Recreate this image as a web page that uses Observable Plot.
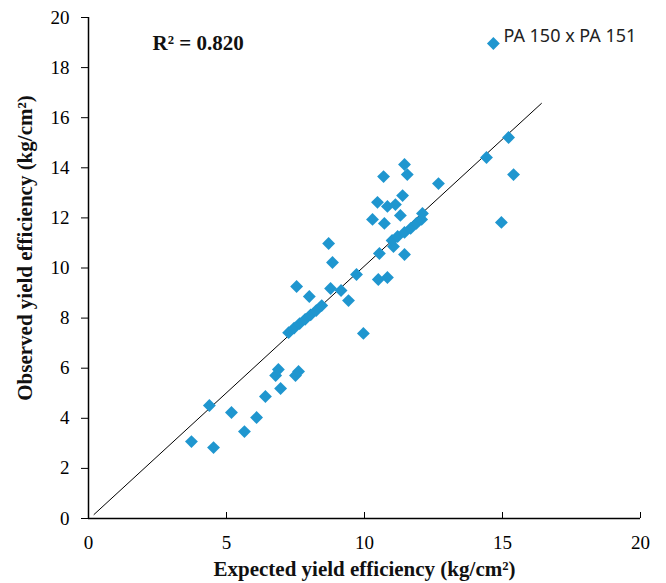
<!DOCTYPE html>
<html><head><meta charset="utf-8">
<script src="https://cdn.jsdelivr.net/npm/d3@7"></script>
<script src="https://cdn.jsdelivr.net/npm/@observablehq/plot@0.6"></script>
<style>body{margin:0;background:#fff}</style>
</head><body><div id="chart"></div>
<script>
const expected = [3.73,4.38,4.53,5.18,5.65,6.09,6.41,6.78,6.88,6.96,7.5,7.61,
  7.54,8.0,7.25,7.45,7.65,7.85,8.05,8.25,8.45,8.7,8.84,8.77,9.15,9.42,9.71,9.96,
  10.5,10.83,10.54,11.45,11.05,11.0,11.2,11.45,11.67,11.88,12.07,12.1,
  10.29,10.72,11.3,10.47,10.83,11.12,11.38,10.69,11.45,11.55,12.68,14.42,15.22,15.4,14.96,14.67];
const observed = [3.07,4.51,2.83,4.23,3.47,4.03,4.87,5.71,5.95,5.19,5.71,5.87,
  9.26,8.86,7.42,7.6,7.78,7.95,8.13,8.3,8.5,10.98,10.22,9.18,9.1,8.7,9.74,7.39,
  9.54,9.62,10.58,10.54,10.86,11.1,11.26,11.42,11.58,11.78,11.94,12.18,
  11.94,11.78,12.1,12.62,12.46,12.53,12.89,13.65,14.13,13.73,13.37,14.41,15.21,13.73,11.82,18.96];
const lineX = [0.2, 16.41];
const lineY = [0.16, 16.57];
const ticks = [0,5,10,15,20];
const yTicks = [0,2,4,6,8,10,12,14,16,18,20];
const pts = expected.map((x,i)=>({x, y: observed[i]}));
const line = lineX.map((x,i)=>({x, y: lineY[i]}));
const labelPt = [{x:14.67, y:18.96, t:"PA 150 x PA 151"}];

const chart = Plot.plot({
  width: 666, height: 583,
  marginLeft: 88, marginRight: 26, marginTop: 17, marginBottom: 65,
  style: {fontFamily: "Liberation Serif", fontSize: "19px", color: "#000", background: "#fff"},
  x: {domain: [0,20]},
  y: {domain: [0,20]},
  marks: [
    Plot.axisX({ticks, tickSize: -6, tickPadding: 23, tickFormat: d=>d, label: null, fontSize: 19}),
    Plot.axisY({ticks: yTicks, tickSize: 7, tickPadding: 12, tickFormat: d=>d, label: null, fontSize: 19}),
    Plot.ruleX([0], {stroke: "#000", strokeWidth: 1.5}),
    Plot.ruleY([0], {stroke: "#000", strokeWidth: 1.5}),
    Plot.line(line, {x: "x", y: "y", stroke: "#000", strokeWidth: 1}),
    Plot.dot(pts, {x: "x", y: "y", symbol: "diamond2", r: 5.8, fill: "#1f96cf", stroke: "none"}),
    Plot.text(labelPt, {x: "x", y: "y", text: "t", dx: 10, dy: -7, textAnchor: "start", fontFamily: "Noto Sans", fontSize: 18, fill: "#222"}),
    Plot.text(["R² = 0.820"], {frameAnchor: "top-left", dx: 64, dy: 18, textAnchor: "start", fontWeight: "bold", fontSize: 21, fill: "#111"}),
    Plot.text(["Expected yield efficiency (kg/cm²)"], {frameAnchor: "bottom", dy: 57, fontWeight: "bold", fontSize: 21, fill: "#111"}),
    Plot.text(["Observed yield efficiency (kg/cm²)"], {frameAnchor: "left", dx: -63, dy: -20, rotate: -90, textAnchor: "middle", fontWeight: "bold", fontSize: 21, fill: "#111"})
  ]
});
document.getElementById("chart").appendChild(chart);
</script></body></html>
